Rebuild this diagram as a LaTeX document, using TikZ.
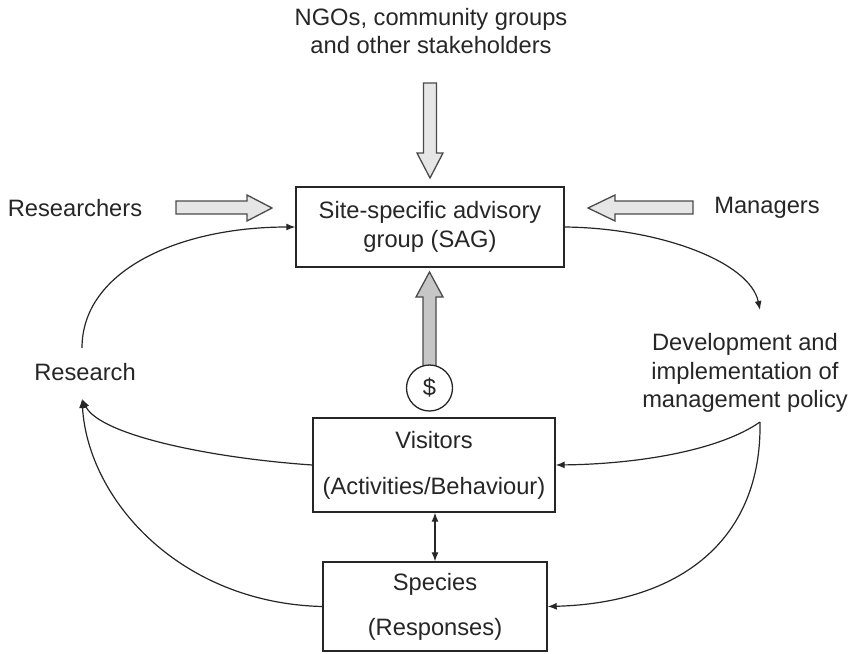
\documentclass[tikz,border=0pt]{standalone}
\usepackage{fontspec}
\setmainfont{Liberation Sans}
\usetikzlibrary{arrows.meta}
\definecolor{ink}{HTML}{262626}
\definecolor{blockedge}{HTML}{4A4A4A}
\definecolor{blockfill}{HTML}{E6E6E6}
\definecolor{moneyfill}{HTML}{C6C6C6}
\tikzset{
  txt/.style={inner sep=0pt, align=center, text=ink,
    font=\fontsize{23.7}{28.5}\selectfont},
  boxnode/.style={txt, draw=ink, line width=1.4pt, fill=white},
  flow/.style={draw=ink, line width=1.2pt, -{Latex[length=9pt,width=7pt]}},
  twoway/.style={draw=ink, line width=1.2pt,
    {Latex[length=9pt,width=7pt]}-{Latex[length=9pt,width=7pt]}},
  block/.style={draw=blockedge, line width=1.3pt, fill=blockfill, line join=miter},
  moneyblock/.style={block, fill=moneyfill},
}
\begin{document}
\begin{tikzpicture}[x=1pt,y=-1pt]
\useasboundingbox (0,0) rectangle (856,653);

% labels
\node[txt] (ngo) at (431,31) {NGOs, community groups\\and other stakeholders};
\node[txt] (researchers) at (75,208) {Researchers};
\node[txt] (managers) at (767,208) {Managers};
\node[txt] (research) at (85,372) {Research};
\node[txt] (policy) at (745,373) {Development and\\implementation of\\management policy};

% boxes
\node[boxnode, minimum width=268pt, minimum height=80pt] (sag) at (430,227)
  {Site-specific advisory\\group (SAG)};
\node[boxnode, minimum width=242pt, minimum height=94pt] (visitors) at (434,465)
  {Visitors\\[17.5pt](Activities/Behaviour)};
\node[boxnode, minimum width=224pt, minimum height=89pt] (species) at (435,606.5)
  {Species\\[16.5pt](Responses)};

% broad input arrows into the advisory group
\draw[block] (423.5,83) -- (436.5,83) -- (436.5,153) -- (443,153) -- (430,178)
  -- (417,153) -- (423.5,153) -- cycle;
\draw[block] (176,201) -- (247,201) -- (247,195) -- (272,208) -- (247,221)
  -- (247,214) -- (176,214) -- cycle;
\draw[block] (693,201) -- (615,201) -- (615,195) -- (588,208) -- (615,221)
  -- (615,214) -- (693,214) -- cycle;
\draw[moneyblock] (423,366) -- (423,297) -- (416,297) -- (429.5,272) -- (443,297)
  -- (436,297) -- (436,366) -- cycle;
\node[txt, circle, draw=ink, line width=1.3pt, fill=white, minimum size=46pt]
  (money) at (429.5,388) {\$};

% loop end points beside the free labels
\coordinate (resTop) at (82,348);
\coordinate (resBot) at (82,399);
\coordinate (polTop) at (760,310);
\coordinate (polBot) at (760,422);

% feedback loop
\draw[flow] (resTop) .. controls (82,270) and (180,227) .. (sag.west);
\draw[flow] (sag.east) .. controls (660,228) and (750,262) .. (polTop);
\draw[flow] (polBot) .. controls (720,450) and (640,464) .. (visitors.east);
\draw[flow] (polBot) .. controls (762,540) and (680,603) .. (species.east);
\draw[flow] (visitors.west) .. controls (210,458) and (100,435) .. (resBot);
\draw[flow] (species.west) .. controls (180,603) and (88,500) .. (resBot);
\draw[twoway] (visitors.south -| species.north) -- (species.north);
\end{tikzpicture}
\end{document}
